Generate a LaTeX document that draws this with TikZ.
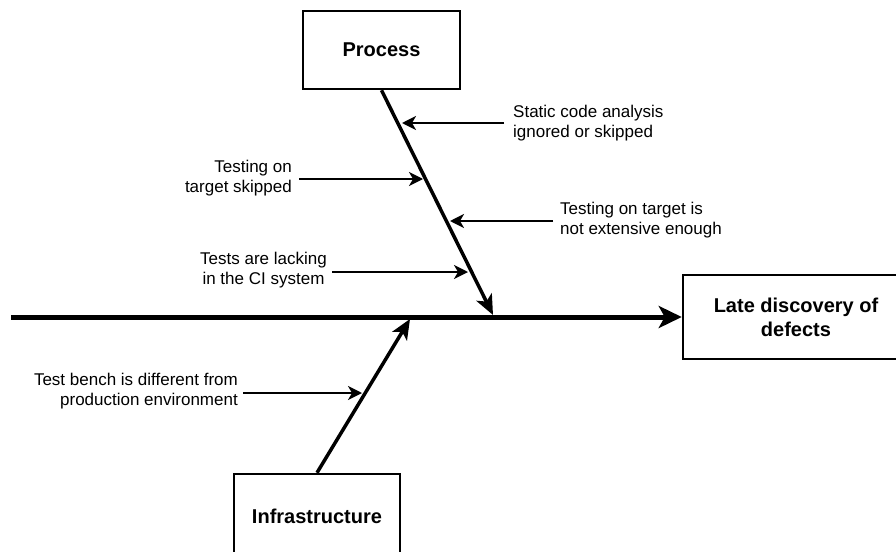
\documentclass[tikz,border=0pt]{standalone}
\usepackage{fontspec}
\setmainfont{Liberation Sans}
\usetikzlibrary{arrows.meta}
\begin{document}
\begin{tikzpicture}[x=1pt,y=-1pt,
  box/.style={draw, line width=2.5pt, font=\fontsize{20}{24}\selectfont\bfseries, align=center, inner sep=0pt},
  lbl/.style={font=\fontsize{17}{20}\selectfont, inner sep=0pt},
  bone/.style={line width=3.5pt, -{Stealth[length=20pt,width=17pt,inset=5pt]}},
  spine/.style={line width=5pt, -{Stealth[length=23pt,width=22pt,inset=6pt]}},
  small/.style={line width=2pt, -{Stealth[length=14pt,width=14pt,inset=4pt]}},
]
\useasboundingbox (0,0) rectangle (896,551);
\fill[white] (0,0) rectangle (896,551);
\clip (0,0) rectangle (896,551);
% boxes
\node[box, minimum width=157pt, minimum height=78pt] (process) at (381.5,50) {Process};
\node[box, minimum width=226pt, minimum height=84pt] (late) at (796,317) {Late discovery of\\defects};
\node[box, minimum width=166pt, minimum height=84pt] (infra) at (317,516) {Infrastructure};
% spine
\coordinate (sstart) at (11,317);
\draw[spine] (sstart) -- (late.west);
% bones
\coordinate (pend) at (493,315);
\coordinate (iend) at (410,319);
\draw[bone] (process.south) -- (pend);
\draw[bone] (infra.north) -- (iend);
% labels
\node[lbl, anchor=west, align=left] (t1) at (513,123) {Static code analysis\\ignored or skipped};
\node[lbl, anchor=east, align=right] (t2) at (292,178) {Testing on\\target skipped};
\node[lbl, anchor=west, align=left] (t3) at (560,220) {Testing on target is\\not extensive enough};
\node[lbl, anchor=east, align=center] (t4) at (327,270) {Tests are lacking\\in the CI system};
\node[lbl, anchor=east, align=right] (t5) at (238,391) {Test bench is different from\\production environment};
% tips on bones
\coordinate (c1) at (402,123);
\coordinate (c2) at (423,179);
\coordinate (c3) at (450,221);
\coordinate (c4) at (468,272);
\coordinate (c5) at (362,393);
\draw[small] (t1.west |- c1) ++(-9,0) -- (c1);
\draw[small] (t2.east |- c2) ++(7,0) -- (c2);
\draw[small] (t3.west |- c3) ++(-7,0) -- (c3);
\draw[small] (t4.east |- c4) ++(5,0) -- (c4);
\draw[small] (t5.east |- c5) ++(5,0) -- (c5);
\end{tikzpicture}
\end{document}
